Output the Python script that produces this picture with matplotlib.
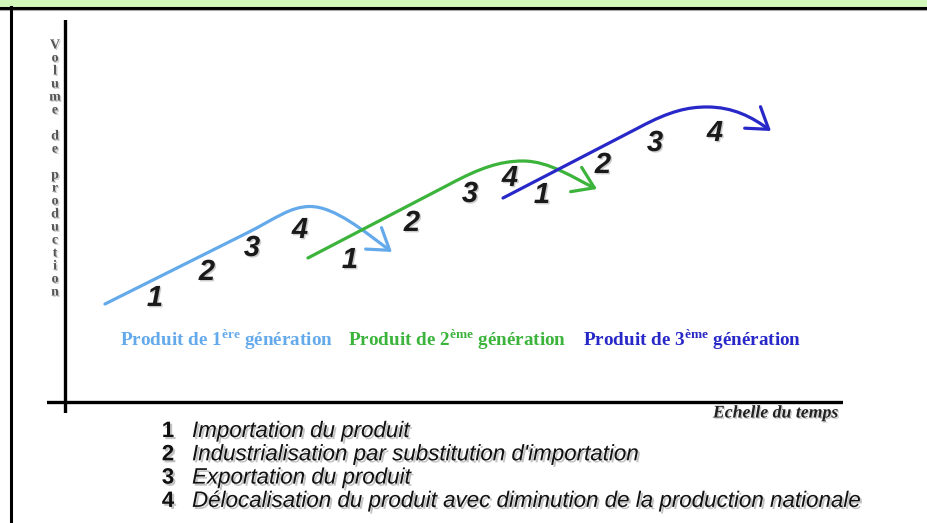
import matplotlib
matplotlib.use("Agg")
import matplotlib.pyplot as plt
from matplotlib import font_manager
from matplotlib.path import Path
from matplotlib.patches import FancyArrowPatch
import matplotlib.patheffects as pe

# curves: start, end of straight rise, bezier to the top, bezier down to the arrow tip (time, volume)
gen1_x = [5.14, 23.39, 26.99, 28.92, 31.49, 34.70, 38.56, 42.03]
gen1_y = [25.65, 44.24, 47.91, 51.18, 51.18, 51.18, 44.50, 39.27]
gen2_x = [31.23, 49.49, 53.34, 55.91, 58.87, 62.34, 65.55, 68.38]
gen2_y = [37.70, 57.07, 61.26, 63.09, 63.09, 63.09, 58.38, 55.76]
gen3_x = [56.30, 73.91, 77.76, 80.08, 82.52, 85.86, 88.30, 90.75]
gen3_y = [53.40, 71.99, 76.18, 77.23, 77.23, 77.23, 74.61, 70.94]

# stage numbers along each curve
stage_labels = ["1", "2", "3", "4"]
gen1_lab_x = [11.57, 18.25, 24.04, 30.21]
gen1_lab_y = [27.23, 34.03, 40.31, 45.03]
gen2_lab_x = [36.63, 44.60, 52.06, 57.20]
gen2_lab_y = [37.17, 46.86, 54.45, 58.64]
gen3_lab_x = [61.31, 69.15, 75.84, 83.55]
gen3_lab_y = [54.19, 62.04, 67.80, 70.42]

gen_names = ["1$^{\\mathrm{ère}}$", "2$^{\\mathrm{ème}}$", "3$^{\\mathrm{ème}}$"]
gen_colors = ["#64AAEB", "#3CB43C", "#2828C8"]

legend_items = ["Importation du produit",
                "Industrialisation par substitution d'importation",
                "Exportation du produit",
                "Délocalisation du produit avec diminution de la production nationale"]

installed = {f.name for f in font_manager.fontManager.ttflist}
narrow = "Liberation Sans Narrow" if "Liberation Sans Narrow" in installed else "Liberation Sans"
leg_size = 17 if narrow == "Liberation Sans Narrow" else 16.1

plt.rcParams["mathtext.fontset"] = "custom"
plt.rcParams["mathtext.rm"] = "Liberation Serif:bold"

W, H = 928, 523
fig = plt.figure(figsize=(W / 100, H / 100), dpi=100)

# frame decoration
fig.patches.append(plt.Rectangle((0, 1 - 6 / H), 1, 6 / H, transform=fig.transFigure,
                                 color="#d2f7bb", zorder=0))
fig.lines.append(plt.Line2D([0, 1], [1 - 7.5 / H, 1 - 7.5 / H], transform=fig.transFigure,
                            color="black", lw=2.2))
fig.lines.append(plt.Line2D([0, 1], [1 - 9.5 / H, 1 - 9.5 / H], transform=fig.transFigure,
                            color="#aaaaaa", lw=0.8))
fig.lines.append(plt.Line2D([11 / W, 11 / W], [0, 1 - 7 / H], transform=fig.transFigure,
                            color="black", lw=2.2))

# axes spanning the axis cross: x 47..843 px, y 20..413 px
ax = fig.add_axes([47 / W, 1 - 413 / H, 796 / W, 393 / H])
ax.set_xlim(-2.31, 100)
ax.set_ylim(-2.88, 100)
ax.axis("off")
ax.axhline(0, color="black", lw=2.4)
ax.axvline(0, color="black", lw=2.4)

codes = [Path.MOVETO, Path.LINETO] + [Path.CURVE4] * 6
for xs, ys, col in zip([gen1_x, gen2_x, gen3_x], [gen1_y, gen2_y, gen3_y], gen_colors):
    p = Path(list(zip(xs, ys)), codes)
    arr = FancyArrowPatch(path=p, arrowstyle="->,head_length=9,head_width=6",
                          color=col, lw=2.3, mutation_scale=1.6, capstyle="round")
    ax.add_patch(arr)

num_fx = [pe.withSimplePatchShadow(offset=(1, -1), shadow_rgbFace="#999999", alpha=0.5)]
for lx, ly in [(gen1_lab_x, gen1_lab_y), (gen2_lab_x, gen2_lab_y), (gen3_lab_x, gen3_lab_y)]:
    for s, x, y in zip(stage_labels, lx, ly):
        ax.text(x, y, s, family="Liberation Sans", style="italic", weight="bold",
                fontsize=21, color="#1a1a1a", ha="center", va="center",
                path_effects=num_fx)

# generation captions
cap_x = [120, 348, 583]
for name, col, cx in zip(gen_names, gen_colors, cap_x):
    fig.text(cx / W, 1 - 340 / H, "Produit de " + name + " génération", color=col,
             family="Liberation Serif", weight="bold", fontsize=13.8, va="center", ha="left")

# y label, stacked letters
ylab = "Volume de production"
for i, ch in enumerate(ylab):
    fig.text(55 / W, 1 - (45 + i * 13) / H, ch, family="Liberation Serif", weight="bold",
             fontsize=10, color="#555555", ha="center", va="center",
             path_effects=[pe.withSimplePatchShadow(offset=(1, -1), shadow_rgbFace="#aaaaaa", alpha=0.6)])

fig.text(838 / W, 1 - 413 / H, "Echelle du temps", family="Liberation Serif", weight="bold",
         style="italic", fontsize=12.8, color="#222222", ha="right", va="center",
         path_effects=[pe.withSimplePatchShadow(offset=(1, -1), shadow_rgbFace="#aaaaaa", alpha=0.6)])

leg_fx = [pe.withSimplePatchShadow(offset=(1.5, -1.5), shadow_rgbFace="#888888", alpha=0.5)]
for i, item in enumerate(legend_items):
    yb = 1 - (437 + i * 23.3) / H
    fig.text(168 / W, yb, str(i + 1), family=narrow, weight="bold", fontsize=16,
             color="#111111", ha="center", va="baseline", path_effects=leg_fx)
    fig.text(192 / W, yb, item, family=narrow, style="italic", fontsize=leg_size,
             color="#111111", ha="left", va="baseline", path_effects=leg_fx)

fig.savefig("out.png", dpi=100)
